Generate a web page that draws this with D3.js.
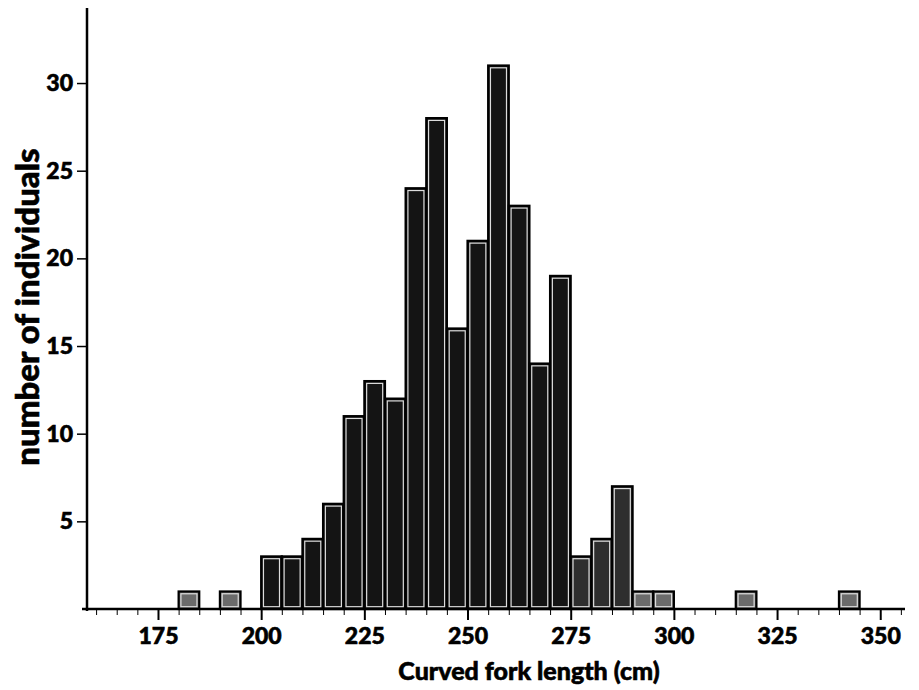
<!DOCTYPE html>
<html>
<head>
<meta charset="utf-8">
<script src="https://cdn.jsdelivr.net/npm/d3@7"></script>
<style>
  body { margin: 0; background: #fff; }
  text { font-family: Lato, "Open Sans", sans-serif; font-weight: 900; fill: #000; stroke: #000; stroke-width: 0.6px; }
</style>
</head>
<body>
<svg id="chart" width="919" height="690"></svg>
<script>
// bin starts (cm), bin width 5
var binStarts = [180, 190, 200, 205, 210, 215, 220, 225, 230, 235, 240, 245, 250,
                 255, 260, 265, 270, 275, 280, 285, 290, 295, 315, 340];
var counts = [1, 1, 3, 3, 4, 6, 11, 13, 12, 24, 28, 16, 21,
              31, 23, 14, 19, 3, 4, 7, 1, 1, 1, 1];
var xTicks = [175, 200, 225, 250, 275, 300, 325, 350];
var yTicks = [5, 10, 15, 20, 25, 30];
var binWidth = 5;

var svg = d3.select('#chart');

var x = d3.scaleLinear().domain([157.8, 356]).range([87, 905]);
var y = d3.scaleLinear().domain([0, 34.28]).range([609, 8]);

function shade(start) {
  if (start >= 200 && start < 275) return '#141414';
  if (start >= 275 && start < 290) return '#2e2e2e';
  return '#6b6b6b';
}

var bars = svg.append('g').selectAll('g')
  .data(binStarts.map(function (s, i) { return { x0: s, n: counts[i] }; }))
  .enter().append('g');

bars.append('rect')
  .attr('x', function (d) { return x(d.x0); })
  .attr('y', function (d) { return y(d.n); })
  .attr('width', function (d) { return x(d.x0 + binWidth) - x(d.x0); })
  .attr('height', function (d) { return y(0) - y(d.n); })
  .attr('fill', function (d) { return shade(d.x0); })
  .attr('stroke', '#000')
  .attr('stroke-width', 2.2);

// thin light line just inside each bar's outline
bars.append('rect')
  .attr('x', function (d) { return x(d.x0) + 2.3; })
  .attr('y', function (d) { return y(d.n) + 2.3; })
  .attr('width', function (d) { return x(d.x0 + binWidth) - x(d.x0) - 4.6; })
  .attr('height', function (d) { return y(0) - y(d.n) - 4.6; })
  .attr('fill', 'none')
  .attr('stroke', '#ddd')
  .attr('stroke-width', 1.2);

// x axis: minor ticks every 5, majors labelled
var minor = d3.range(160, 356, 5).filter(function (v) { return v % 25 !== 0; });
var xAxis = svg.append('g').attr('transform', 'translate(0,609)');
xAxis.append('line')
  .attr('x1', 82).attr('x2', 905).attr('y1', 0).attr('y2', 0)
  .attr('stroke', '#000').attr('stroke-width', 2.5);
xAxis.call(d3.axisBottom(x).tickValues(minor).tickSize(6).tickFormat(''))
  .call(function (g) { g.select('.domain').remove(); });
var xMaj = svg.append('g').attr('transform', 'translate(0,609)')
  .call(d3.axisBottom(x).tickValues(xTicks).tickSize(11).tickPadding(8).tickFormat(d3.format('d')));
xMaj.select('.domain').remove();
xMaj.selectAll('line').attr('stroke-width', 2);
xMaj.selectAll('text').attr('font-size', 23).attr('dy', '0.71em');

// y axis
svg.append('line')
  .attr('x1', 87).attr('x2', 87).attr('y1', 8).attr('y2', 611)
  .attr('stroke', '#000').attr('stroke-width', 2.5);
var yAx = svg.append('g').attr('transform', 'translate(87,0)')
  .call(d3.axisLeft(y).tickValues(yTicks).tickSize(10).tickPadding(4).tickFormat(d3.format('d')));
yAx.select('.domain').remove();
yAx.selectAll('line').attr('stroke-width', 1.5);
yAx.selectAll('text').attr('font-size', 23);

svg.selectAll('.tick text').style('font-family', 'Lato, sans-serif').style('font-weight', 900);

// axis titles
svg.append('text')
  .attr('x', 529).attr('y', 680)
  .attr('text-anchor', 'middle')
  .attr('font-size', 25)
  .text('Curved fork length (cm)');

svg.append('text')
  .attr('transform', 'translate(39,307) rotate(-90)')
  .attr('text-anchor', 'middle')
  .attr('font-size', 33)
  .text('number of individuals');
</script>
</body>
</html>
